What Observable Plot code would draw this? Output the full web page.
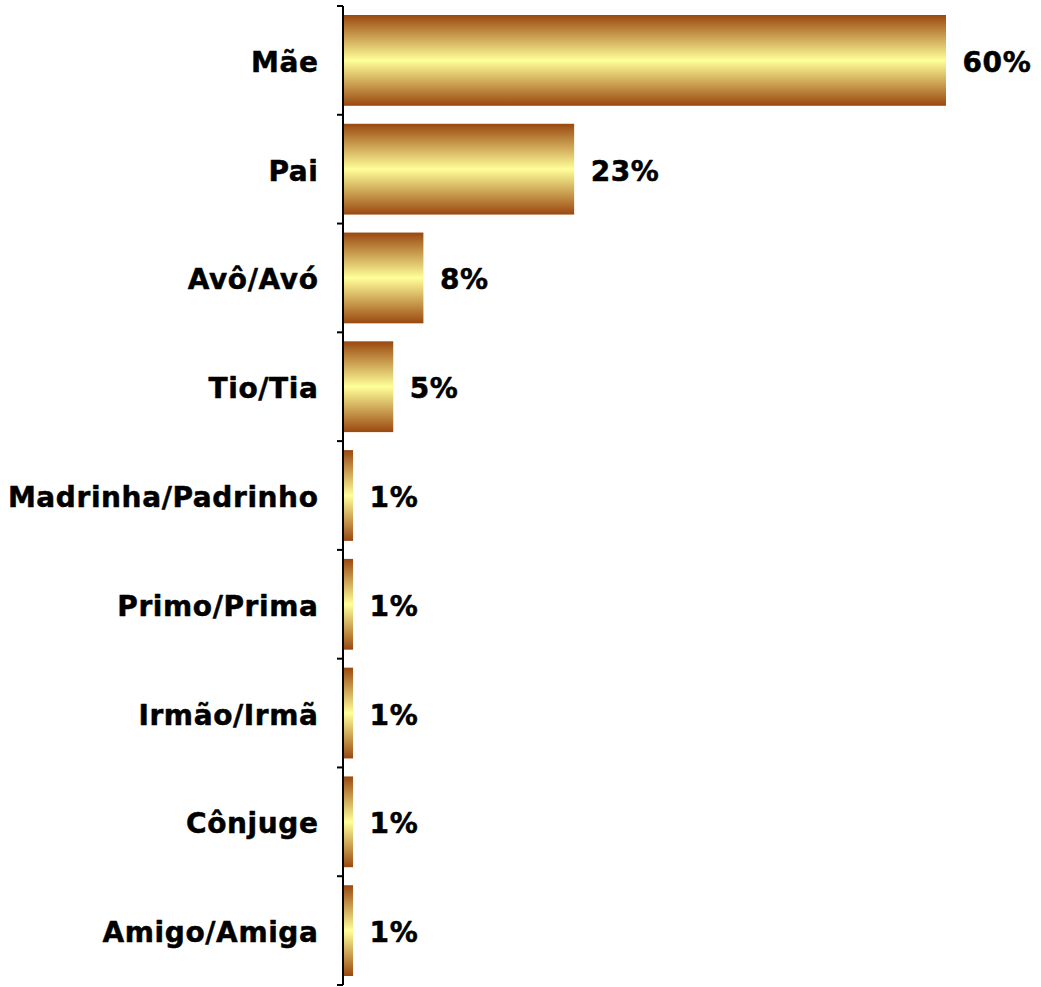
<!DOCTYPE html>
<html>
<head>
<meta charset="utf-8">
<script src="https://cdn.jsdelivr.net/npm/d3@7"></script>
<script src="https://cdn.jsdelivr.net/npm/@observablehq/plot@0.6"></script>
<style>
  html, body { margin: 0; padding: 0; background: #fff; }
  #chart svg { display: block; }
</style>
</head>
<body>
<div id="chart"></div>
<script>
const categories = ["Mãe", "Pai", "Avô/Avó", "Tio/Tia", "Madrinha/Padrinho", "Primo/Prima", "Irmão/Irmã", "Cônjuge", "Amigo/Amiga"];
const values = [60, 23, 8, 5, 1, 1, 1, 1, 1];
const labels = ["60%", "23%", "8%", "5%", "1%", "1%", "1%", "1%", "1%"];

const data = categories.map((c, i) => ({category: c, value: values[i], label: labels[i]}));

const FONT = "'DejaVu Sans', Verdana, sans-serif";

function gradientDefs() {
  const ns = "http://www.w3.org/2000/svg";
  const defs = document.createElementNS(ns, "defs");
  const lg = document.createElementNS(ns, "linearGradient");
  lg.setAttribute("id", "barGrad");
  lg.setAttribute("x1", "0"); lg.setAttribute("y1", "0");
  lg.setAttribute("x2", "0"); lg.setAttribute("y2", "1");
  [["0%", "#9a4810"], ["50%", "#ffff99"], ["100%", "#9a4810"]].forEach(([o, c]) => {
    const s = document.createElementNS(ns, "stop");
    s.setAttribute("offset", o);
    s.setAttribute("stop-color", c);
    lg.appendChild(s);
  });
  defs.appendChild(lg);
  return defs;
}

function bandTicks(index, scales, values, dimensions) {
  const ns = "http://www.w3.org/2000/svg";
  const g = document.createElementNS(ns, "g");
  const y = scales.y;
  const x0 = scales.x(0);
  const edges = categories.map(c => y(c));
  edges.push(y(categories[categories.length - 1]) + y.bandwidth());
  edges.forEach(e => {
    const l = document.createElementNS(ns, "line");
    l.setAttribute("x1", x0 - 6); l.setAttribute("x2", x0);
    l.setAttribute("y1", e); l.setAttribute("y2", e);
    l.setAttribute("stroke", "#000");
    l.setAttribute("stroke-width", 2);
    g.appendChild(l);
  });
  const v = document.createElementNS(ns, "line");
  v.setAttribute("x1", x0); v.setAttribute("x2", x0);
  v.setAttribute("y1", edges[0]); v.setAttribute("y2", edges[edges.length - 1]);
  v.setAttribute("stroke", "#000");
  v.setAttribute("stroke-width", 2);
  g.appendChild(v);
  return g;
}

const chart = Plot.plot({
  width: 1041,
  height: 987,
  marginLeft: 343,
  marginRight: 95,
  marginTop: 6,
  marginBottom: 2,
  style: {fontFamily: FONT, background: "#fff", letterSpacing: "0.6px"},
  x: {domain: [0, 60], axis: null},
  y: {domain: categories, padding: 0, round: false, axis: null},
  marks: [
    gradientDefs,
    Plot.barX(data, {
      x: "value", y: "category",
      fill: "url(#barGrad)",
      insetTop: 9, insetBottom: 9
    }),
    bandTicks,
    Plot.text(data, {
      x: 0, y: "category", text: "category",
      textAnchor: "end", dx: -25, dy: 2,
      fontSize: 28, fontWeight: "bold", fill: "#000",
      stroke: "#000", strokeWidth: 0.5
    }),
    Plot.text(data, {
      x: "value", y: "category", text: "label",
      textAnchor: "start", dx: 16, dy: 2,
      fontSize: 28, fontWeight: "bold", fill: "#000",
      stroke: "#000", strokeWidth: 0.5
    })
  ]
});
document.getElementById("chart").appendChild(chart);
</script>
</body>
</html>
